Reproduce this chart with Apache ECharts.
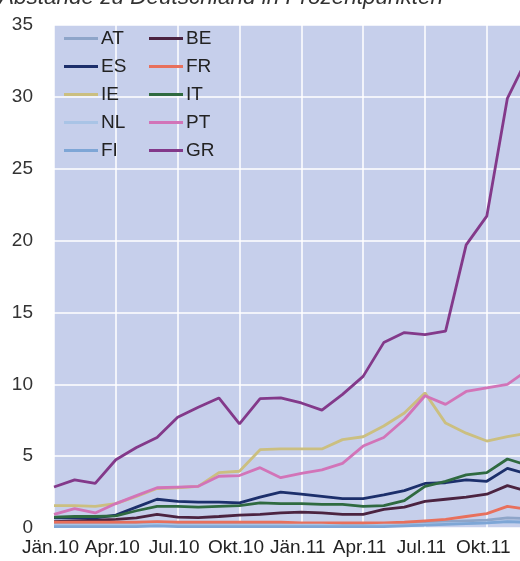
<!DOCTYPE html>
<html lang="de">
  <head>
    <meta charset="UTF-8" />
    <title>Abstände zu Deutschland in Prozentpunkten</title>
    <script src="https://cdn.jsdelivr.net/npm/echarts@6/dist/echarts.min.js"></script>
    <style>
      html, body { margin: 0; padding: 0; background: #ffffff; overflow: hidden; }
      /* the picture is cut off at the right, so the chart is a bit wider than the window */
      #chart { width: 528px; height: 561px; }
    </style>
  </head>
  <body>
    <div id="chart"></div>
    <script>
      // Monate Jän.10 bis Dez.11
      var months = [
        "Jän.10", "Feb.10", "Mär.10", "Apr.10", "Mai.10", "Jun.10",
        "Jul.10", "Aug.10", "Sep.10", "Okt.10", "Nov.10", "Dez.10",
        "Jän.11", "Feb.11", "Mär.11", "Apr.11", "Mai.11", "Jun.11",
        "Jul.11", "Aug.11", "Sep.11", "Okt.11", "Nov.11", "Dez.11"
      ];

      var at = [0.3, 0.3, 0.3, 0.3, 0.35, 0.4, 0.35, 0.35, 0.35, 0.35, 0.35, 0.35, 0.3, 0.3, 0.3, 0.3, 0.3, 0.35, 0.4, 0.45, 0.5, 0.55, 0.7, 0.65];
      var be = [0.45, 0.5, 0.55, 0.6, 0.7, 0.95, 0.75, 0.72, 0.8, 0.9, 0.95, 1.05, 1.1, 1.05, 0.95, 0.95, 1.3, 1.45, 1.85, 2.0, 2.15, 2.35, 2.95, 2.55];
      var es = [0.7, 0.7, 0.7, 0.9, 1.45, 2.0, 1.85, 1.8, 1.8, 1.75, 2.15, 2.5, 2.35, 2.2, 2.05, 2.05, 2.3, 2.6, 3.1, 3.15, 3.35, 3.25, 4.15, 3.75];
      var fr = [0.4, 0.4, 0.4, 0.4, 0.4, 0.45, 0.4, 0.4, 0.4, 0.4, 0.4, 0.4, 0.35, 0.35, 0.35, 0.35, 0.35, 0.4, 0.5, 0.6, 0.8, 1.0, 1.5, 1.3];
      var ie = [1.55, 1.55, 1.5, 1.7, 2.2, 2.75, 2.8, 2.9, 3.85, 3.95, 5.45, 5.5, 5.5, 5.5, 6.15, 6.35, 7.1, 8.0, 9.4, 7.3, 6.6, 6.05, 6.35, 6.6];
      var it = [0.75, 0.8, 0.8, 0.85, 1.2, 1.5, 1.5, 1.45, 1.5, 1.55, 1.75, 1.7, 1.7, 1.65, 1.65, 1.5, 1.55, 1.9, 2.9, 3.25, 3.7, 3.85, 4.8, 4.35];
      var nl = [0.2, 0.2, 0.2, 0.2, 0.2, 0.25, 0.2, 0.2, 0.2, 0.2, 0.2, 0.2, 0.2, 0.2, 0.15, 0.15, 0.2, 0.2, 0.25, 0.3, 0.3, 0.35, 0.45, 0.4];
      var pt = [0.95, 1.35, 1.05, 1.7, 2.25, 2.8, 2.85, 2.9, 3.6, 3.65, 4.2, 3.5, 3.8, 4.05, 4.5, 5.7, 6.3, 7.55, 9.2, 8.6, 9.5, 9.75, 10.0, 11.0];
      var fi = [0.1, 0.1, 0.1, 0.1, 0.1, 0.15, 0.1, 0.1, 0.1, 0.1, 0.1, 0.1, 0.1, 0.1, 0.1, 0.1, 0.1, 0.15, 0.2, 0.25, 0.3, 0.35, 0.45, 0.4];
      var gr = [2.85, 3.35, 3.1, 4.75, 5.6, 6.3, 7.7, 8.4, 9.05, 7.25, 9.0, 9.05, 8.7, 8.2, 9.3, 10.55, 12.9, 13.6, 13.45, 13.7, 19.7, 21.7, 29.9, 32.8];

      var names = ["AT", "BE", "ES", "FR", "IE", "IT", "NL", "PT", "FI", "GR"];
      var values = [at, be, es, fr, ie, it, nl, pt, fi, gr];
      var colors = ["#8ea5c9", "#4b2340", "#1c2f6b", "#e8705c", "#cbbf80", "#2f6a40", "#a9c4e6", "#d274b8", "#7ea6d6", "#83398a"];

      var font = "Liberation Sans, Arial, sans-serif";
      var chart = echarts.init(document.getElementById("chart"));

      var series = names.map(function (n, i) {
        return {
          name: n,
          type: "line",
          data: values[i],
          symbol: "none",
          color: colors[i],
          lineStyle: { width: 2.8, color: colors[i] },
        };
      });

      var legendBase = {
        orient: "vertical",
        top: 29,
        padding: 0,
        icon: "rect",
        itemWidth: 34,
        itemHeight: 3,
        itemGap: 9,
        textStyle: { fontSize: 19, color: "#222", fontFamily: font, padding: [0, 0, 0, -2] },
      };

      var options = {
        animation: false,
        title: {
          text: "Abstände zu Deutschland in Prozentpunkten",
          left: -1,
          top: -14,
          padding: 0,
          textStyle: { fontSize: 22.5, fontStyle: "italic", fontWeight: "normal", color: "#333", fontFamily: font },
        },
        legend: [
          Object.assign({ left: 64, data: ["AT", "ES", "IE", "NL", "FI"] }, legendBase),
          Object.assign({ left: 149, data: ["BE", "FR", "IT", "PT", "GR"] }, legendBase),
        ],
        grid: {
          left: 54,
          right: 0,
          top: 25,
          bottom: 33,
          show: true,
          backgroundColor: "#c6cfeb",
          borderWidth: 0,
        },
        xAxis: {
          type: "category",
          data: months,
          boundaryGap: false,
          axisLine: { show: false },
          axisTick: { show: false },
          axisLabel: { interval: 2, fontSize: 19, color: "#222", margin: 10, fontFamily: font, padding: [0, 7, 0, 0] },
          splitLine: { show: true, interval: 2, lineStyle: { color: "#ffffff", width: 1.5 } },
        },
        yAxis: {
          type: "value",
          min: 0,
          max: 35,
          interval: 5,
          axisLine: { show: false },
          axisTick: { show: false },
          axisLabel: { fontSize: 19, color: "#333", margin: 21, fontFamily: font },
          splitLine: { lineStyle: { color: "#ffffff", width: 1.5 } },
        },
        series: series,
      };

      chart.setOption(options);
    </script>
  </body>
</html>
